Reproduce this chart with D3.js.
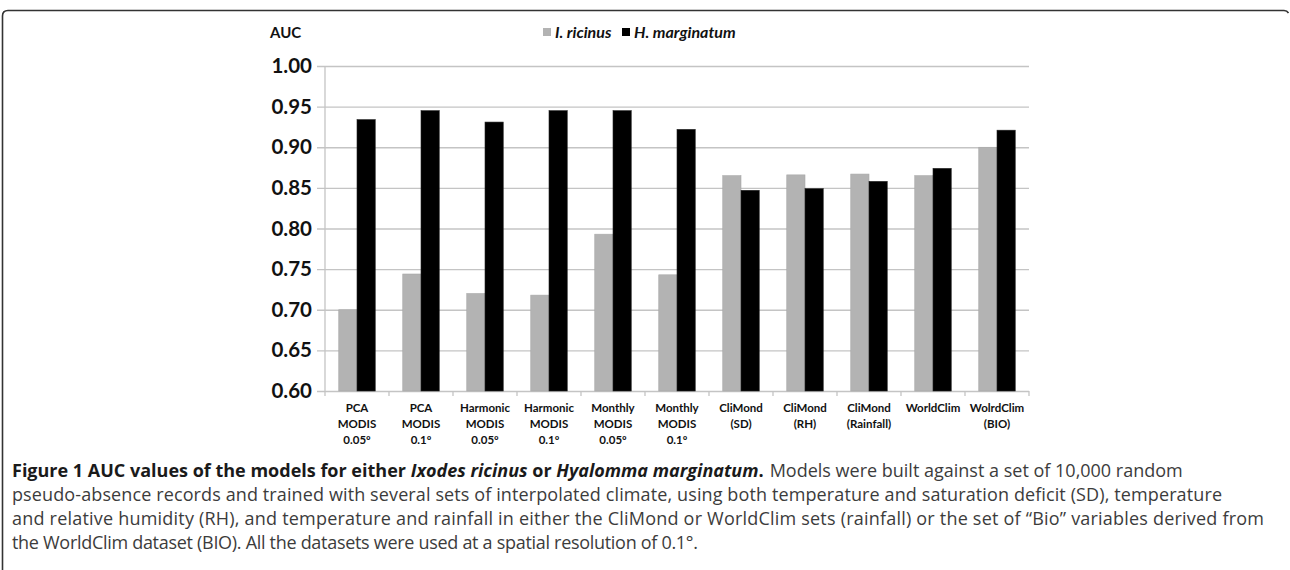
<!DOCTYPE html>
<html>
<head>
<meta charset="utf-8">
<script src="https://cdn.jsdelivr.net/npm/d3@7"></script>
<style>
  body { margin: 0; background: #fff; }
  svg { display: block; }
</style>
</head>
<body>
<script>
'use strict';

// category labels (one entry per line of the label)
const categories = [
  ["PCA", "MODIS", "0.05º"],
  ["PCA", "MODIS", "0.1º"],
  ["Harmonic", "MODIS", "0.05º"],
  ["Harmonic", "MODIS", "0.1º"],
  ["Monthly", "MODIS", "0.05º"],
  ["Monthly", "MODIS", "0.1º"],
  ["CliMond", "(SD)"],
  ["CliMond", "(RH)"],
  ["CliMond", "(Rainfall)"],
  ["WorldClim"],
  ["WolrdClim", "(BIO)"]
];

const seriesNames = ["I. ricinus", "H. marginatum"];
const seriesColors = ["#b3b3b3", "#000000"];

// AUC values
const ricinus = [0.700, 0.744, 0.720, 0.718, 0.793, 0.743, 0.865, 0.866, 0.867, 0.865, 0.900];
const marginatum = [0.934, 0.945, 0.931, 0.945, 0.945, 0.922, 0.847, 0.849, 0.858, 0.874, 0.921];

const yTicks = [0.60, 0.65, 0.70, 0.75, 0.80, 0.85, 0.90, 0.95, 1.00];

// caption: bold title pieces, then the plain text lines
const captionTitle = [["Figure 1 AUC values of the models for either ", ""], ["Ixodes ricinus", "i"],
  [" or ", ""], ["Hyalomma marginatum", "i"], [".", ""]];
const captionLines = [
  "Models were built against a set of 10,000 random",
  "pseudo-absence records and trained with several sets of interpolated climate, using both temperature and saturation deficit (SD), temperature",
  "and relative humidity (RH), and temperature and rainfall in either the CliMond or WorldClim sets (rainfall) or the set of \u201cBio\u201d variables derived from",
  "the WorldClim dataset (BIO). All the datasets were used at a spatial resolution of 0.1°."
];

(function () {
  let svg = "";

  window.onload = function () {
    svg = d3.select('body')
      .append('svg')
      .attr('width', 1290)
      .attr('height', 570);

    drawFrame();
    drawChart();
    drawCaption();
  }

  // rounded frame around the figure (only top and left are visible)
  function drawFrame() {
    svg.append('path')
      .attr('d', 'M2.5,570 V16 Q2.5,10.5 8,10.5 H1284 Q1287,10.5 1288.5,13')
      .attr('fill', 'none')
      .attr('stroke', '#333')
      .attr('stroke-width', 1.6);
  }

  function drawChart() {
    let data = categories.map((c, i) => ({ label: c, values: [ricinus[i], marginatum[i]] }));

    // outer scale: one band per category
    let x0 = d3.scaleBand()
      .domain(d3.range(categories.length))
      .range([325, 1029])
      .paddingInner(0.43)
      .paddingOuter(0.215);

    // inner scale: the two species inside a band
    let x1 = d3.scaleBand()
      .domain([0, 1])
      .range([0, x0.bandwidth()]);

    let y = d3.scaleLinear()
      .domain([0.60, 1.00])
      .range([391, 66]);

    // horizontal grid lines + y labels
    let yAxis = d3.axisLeft(y)
      .tickValues(yTicks)
      .tickFormat(d3.format('.2f'))
      .tickSize(-(1029 - 325) - 8)
      .tickPadding(5);

    let gy = svg.append('g')
      .attr('transform', 'translate(317, 0)')
      .call(yAxis);
    gy.select('.domain').remove();
    gy.selectAll('line')
      .attr('stroke', '#c4c4c4')
      .attr('stroke-width', 1.3);
    gy.selectAll('text')
      .attr('fill', '#111')
      .style('font-family', 'Lato, sans-serif')
      .style('font-weight', 'bold')
      .style('font-size', '20.5px');

    // vertical axis line
    svg.append('line')
      .attr('x1', 325).attr('x2', 325)
      .attr('y1', 66).attr('y2', 391)
      .attr('stroke', '#c4c4c4')
      .attr('stroke-width', 1.3);

    // x axis ticks at category boundaries
    let step = x0.step();
    let boundaries = d3.range(categories.length + 1);
    svg.append('g')
      .selectAll('line')
      .data(boundaries)
      .enter()
      .append('line')
      .attr('x1', (d) => 325 + d * step)
      .attr('x2', (d) => 325 + d * step)
      .attr('y1', 391)
      .attr('y2', 396)
      .attr('stroke', '#c4c4c4')
      .attr('stroke-width', 1.3);

    // bars
    let groups = svg.append('g')
      .selectAll('g')
      .data(data)
      .enter()
      .append('g')
      .attr('transform', (d, i) => 'translate(' + x0(i) + ', 0)');

    groups.selectAll('rect')
      .data((d) => d.values)
      .enter()
      .append('rect')
      .attr('x', (d, j) => x1(j))
      .attr('y', (d) => y(d))
      .attr('width', x1.bandwidth())
      .attr('height', (d) => 391 - y(d))
      .attr('fill', (d, j) => seriesColors[j])
      .attr('stroke', (d, j) => j == 0 ? '#a8a8a8' : '#222')
      .attr('stroke-width', 0.6);

    // category labels, several lines each
    let labels = svg.append('g')
      .selectAll('text')
      .data(data)
      .enter()
      .append('text')
      .attr('text-anchor', 'middle')
      .attr('fill', '#111')
      .style('font-family', 'Lato, sans-serif')
      .style('font-weight', 'bold')
      .style('font-size', '11.5px');

    labels.selectAll('tspan')
      .data((d, i) => d.label.map((t) => ({ t: t, i: i })))
      .enter()
      .append('tspan')
      .attr('x', (d) => x0(d.i) + x0.bandwidth() / 2)
      .attr('y', (d, k) => 412 + k * 16)
      .text((d) => d.t);

    // AUC label over the y axis
    svg.append('text')
      .attr('x', 270)
      .attr('y', 38)
      .attr('fill', '#111')
      .style('font-family', 'Lato, sans-serif')
      .style('font-weight', 'bold')
      .style('font-size', '15px')
      .text('AUC');

    // legend
    let legendX = [543, 622];
    let legend = svg.append('g')
      .selectAll('g')
      .data(seriesNames)
      .enter()
      .append('g')
      .attr('transform', (d, i) => 'translate(' + legendX[i] + ', 0)');

    legend.append('rect')
      .attr('x', 0)
      .attr('y', 28)
      .attr('width', 8)
      .attr('height', 8)
      .attr('fill', (d, i) => seriesColors[i]);

    legend.append('text')
      .attr('x', 12)
      .attr('y', 38)
      .attr('fill', '#111')
      .style('font-family', 'Lato, sans-serif')
      .style('font-weight', 'bold')
      .style('font-style', 'italic')
      .style('font-size', '16px')
      .text((d) => d);
  }

  // figure caption below the chart
  function drawCaption() {
    let lineY = [477, 501, 525, 549];
    let lineEnd = [0, 1222, 1264, 698];

    // bold title at the start of the first line
    let title = svg.append('text')
      .attr('x', 12)
      .attr('y', lineY[0])
      .attr('fill', '#1a1a1a')
      .style('font-family', '"Open Sans", sans-serif')
      .style('font-weight', 'bold')
      .style('font-size', '18px');

    captionTitle.forEach((p) => {
      title.append('tspan')
        .style('font-style', p[1] == 'i' ? 'italic' : 'normal')
        .text(p[0]);
    });

    // first plain line starts right after the title
    let titleEnd = 12 + title.node().getComputedTextLength();
    let lineX = [titleEnd + 6, 12, 12, 12];

    // plain text lines (the first one keeps its natural width)
    captionLines.forEach((line, li) => {
      let t = svg.append('text')
        .attr('x', lineX[li])
        .attr('y', lineY[li])
        .attr('fill', '#3c3c3c')
        .style('font-family', '"Open Sans", sans-serif')
        .style('font-size', '18px')
        .text(line);
      if (li > 0) {
        t.attr('textLength', lineEnd[li] - lineX[li])
          .attr('lengthAdjust', 'spacing');
      }
    });
  }

})();
</script>
</body>
</html>
